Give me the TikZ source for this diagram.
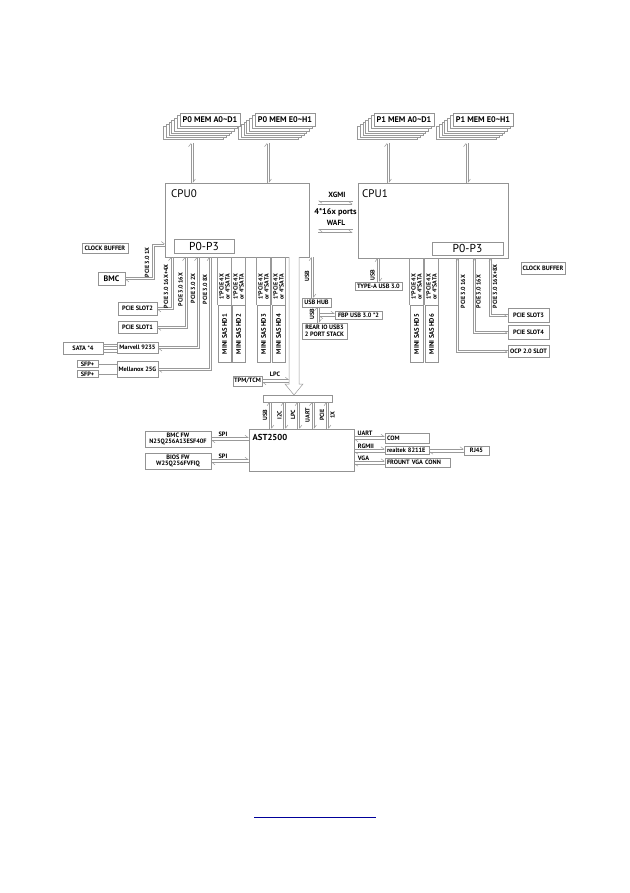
\documentclass[tikz,border=0pt]{standalone}
\usepackage{fontspec}
\setmainfont{PT Sans}
\usetikzlibrary{arrows.meta}

\tikzset{
  ln/.style={draw=gray!80, line width=0.5pt},
  blk/.style={draw=gray!85, fill=white, line width=0.55pt, inner sep=0pt, align=center,
    font=\fontsize{6.3}{6.6}\selectfont\bfseries},
  memblk/.style={blk, minimum width=60pt, minimum height=13pt, font=\fontsize{8.2}{9}\selectfont\bfseries},
  lbl/.style={inner sep=0.5pt, font=\fontsize{6.3}{7}\selectfont\bfseries},
  rl/.style={lbl, rotate=90, align=center, font=\fontsize{6}{6}\selectfont\bfseries},
  cpulbl/.style={anchor=west, inner sep=0pt, font=\fontsize{11}{12}\selectfont},
  lft/.style={text width=#1, align=left, inner xsep=2pt}
}
% pair of lines, down from a coordinate to a node's top edge
\newcommand{\vpair}[2]{%
  \draw[ln,<-] ([xshift=-1.2pt]#1) -- ([xshift=-1.2pt]#1 |- #2);
  \draw[ln,->] ([xshift=1.2pt]#1) -- ([xshift=1.2pt]#1 |- #2);}
% pair of lines, horizontal from one node to another
\newcommand{\hpair}[2]{%
  \draw[ln,->] ([yshift=1.5pt]#1) -- ([yshift=1.5pt]#1 -| #2);
  \draw[ln,<-] ([yshift=-1.5pt]#1) -- ([yshift=-1.5pt]#1 -| #2);}

\begin{document}
\begin{tikzpicture}[x=1pt,y=-1pt,>={Straight Barb[left,length=3pt,width=4.5pt]}]
\useasboundingbox (0,0) rectangle (629,893);

% processors
\node[blk, minimum width=144pt, minimum height=74pt] (cpu0) at (237,220) {};
\node[cpulbl] (cpu0t) at (171,194) {CPU0};
\node[blk, minimum width=60pt, minimum height=14pt, font=\fontsize{11.5}{12}\selectfont] (pp0) at (204,246) {P0-P3};
\node[blk, minimum width=150pt, minimum height=75pt] (cpu1) at (433,220.5) {};
\node[cpulbl] (cpu1t) at (362,194) {CPU1};
\node[blk, minimum width=71pt, minimum height=13pt, font=\fontsize{11.5}{12}\selectfont] (pp1) at (467.5,248.5) {P0-P3};

% memory stacks
\foreach \cx/\nm/\txt in {210/m0a/P0 MEM A0\textasciitilde D1, 285/m0e/P0 MEM E0\textasciitilde H1,
    404/m1a/P1 MEM A0\textasciitilde D1, 483/m1e/P1 MEM E0\textasciitilde H1}{
  \foreach \k in {6,5,...,1}
    \draw[draw=gray!80, fill=white, line width=0.5pt] (\cx-30-2.8*\k,113.5+2.2*\k) rectangle ++(60,13);
  \node[memblk] (\nm) at (\cx,120) {\txt};
}
\foreach \nm/\ax in {m0a/192, m0e/268}{
  \coordinate (\nm-b) at (\ax,143);
  \vpair{\nm-b}{cpu0.north}
}
\foreach \nm/\ax in {m1a/388, m1e/467}{
  \coordinate (\nm-b) at (\ax,143);
  \vpair{\nm-b}{cpu1.north}
}

% XGMI / WAFL
\node[lbl, font=\fontsize{7.5}{8}\selectfont\bfseries] (xgmi) at (337,195) {XGMI};
\node[lbl, font=\fontsize{8.3}{9}\selectfont\bfseries] (ports) at (335.5,212) {4*16x ports};
\node[lbl, font=\fontsize{7.5}{8}\selectfont\bfseries] (wafl) at (336,223) {WAFL};
\foreach \nm/\yy in {xg/202.5, wf/231}{
  \coordinate (\nm) at (0,\yy);
  \draw[ln,<-,shorten <=9pt,shorten >=5pt] ([yshift=1.5pt]cpu0.east |- \nm) -- ([yshift=1.5pt]cpu1.west |- \nm);
  \draw[ln,->,shorten <=9pt,shorten >=5pt] ([yshift=-1.5pt]cpu0.east |- \nm) -- ([yshift=-1.5pt]cpu1.west |- \nm);
}

% left side devices
\node[blk, minimum width=46pt, minimum height=10pt] (clk0) at (105,248) {CLOCK BUFFER};
\node[blk, minimum width=27pt, minimum height=13pt, font=\fontsize{8}{9}\selectfont\bfseries] (bmc) at (111.5,278.5) {BMC};
\node[blk, minimum width=39pt, minimum height=13pt] (slot2) at (137.5,308.5) {PCIE SLOT2};
\node[blk, minimum width=39pt, minimum height=12pt] (slot1) at (137.5,327) {PCIE SLOT1};
\node[blk, minimum width=41pt, minimum height=11pt] (marv) at (137.5,347.5) {Marvell 9235};
\node[blk, minimum width=40pt, minimum height=12pt] (sata) at (83,348) {SATA *4};
\node[blk, minimum width=21pt, minimum height=7pt] (sfp1) at (87.5,364) {SFP+};
\node[blk, minimum width=21pt, minimum height=7pt] (sfp2) at (87.5,374) {SFP+};
\node[blk, minimum width=41pt, minimum height=16pt] (mlx) at (137.5,369) {Mellanox 25G};

% BMC link
\coordinate (bk) at (153,262);
\coordinate (c1x) at (165,245);
\draw[ln,->] ([yshift=1.2pt]bmc.east) -| ([xshift=-1.2pt]bk) |- ([yshift=1.2pt]c1x);
\draw[ln,<-] ([yshift=-1.2pt]bmc.east) -| ([xshift=1.2pt]bk) |- ([yshift=-1.2pt]c1x);
\node[rl, anchor=west] at (147,278) {PCIE 3.0 1X};

% CPU0 PCIe links to the left
\foreach \nm/\xx/\dst in {ca/172/slot2, cb/186/slot1, cc/198/marv, cd/210.5/mlx}{
  \coordinate (\nm) at (\xx,257);
  \draw[ln,<-] ([xshift=-1.2pt]\nm) |- ([yshift=1.2pt]\dst.east);
  \draw[ln,->] ([xshift=1.2pt]\nm) |- ([yshift=-1.2pt]\dst.east);
}
\node[rl, anchor=west] at (166,309) {PCIE 3.0 16X+4X};
\node[rl, anchor=west] at (180.5,307) {PCIE 3.0 16X};
\node[rl, anchor=west] at (193,304) {PCIE 3.0 2X};
\node[rl, anchor=west] at (205,305) {PCIE 3.0 8X};

\foreach \dd in {-4.2,-1.4,1.4,4.2}
  \draw[ln] ([yshift=\dd pt]sata.east) -- ([yshift=\dd pt]sata.east -| marv.west);
\draw[ln] (sfp1.east) -- (sfp1.east -| mlx.west);
\draw[ln] (sfp2.east) -- (sfp2.east -| mlx.west);

% mini sas connectors
\foreach \nm/\cx/\cpu/\n in {hd1/224.5/cpu0/1, hd2/238.5/cpu0/2, hd3/263.5/cpu0/3, hd4/278.5/cpu0/4, hd5/416.5/cpu1/5, hd6/431.5/cpu1/6}{
  \node[blk, rotate=90, minimum width=57pt, minimum height=13pt, font=\fontsize{6.6}{7}\selectfont\bfseries] (\nm) at (\cx,334) {MINI SAS HD\n};
  \draw[ln] (\nm.north east) -- (\nm.north east |- \cpu.south);
  \draw[ln] (\nm.south east) -- (\nm.south east |- \cpu.south);
  \node[rl] at (\cx,287) {1*PCIE 4X\\or 4*SATA};
}

% USB on CPU0
\node[blk, minimum width=29pt, minimum height=9pt] (hub) at (316.5,302.5) {USB HUB};
\node[blk, minimum width=47pt, minimum height=8pt] (fbp) at (358.5,315) {FBP USB 3.0 *2};
\node[blk, minimum width=45pt, minimum height=16pt] (rear) at (324.5,331) {REAR IO USB3\\2 PORT STACK};
\coordinate (u0) at (312.5,257);
\vpair{u0}{hub.north}
\node[rl, anchor=west] at (307,282) {USB};
\coordinate (hr) at (318,307);
\vpair{hr}{rear.north}
\node[rl] at (312,314.5) {USB};
\coordinate (hf) at (319.2,315);
\hpair{hf}{fbp.west}

% TPM and big arrow
\node[blk, minimum width=29pt, minimum height=10pt] (tpm) at (247.5,381) {TPM/TCM};
\node[lbl] (lpcl) at (275,374) {LPC};
\node[blk, minimum width=69pt, minimum height=7pt] (bus) at (297.5,398.5) {};
\coordinate (bal) at (289,257);
\draw[ln, fill=white] (bal) -- ++(0,127) -- ++(-4,0) -- ++(9,11) -- ++(9,-11) -- ++(-4,0) -- ++(0,-127);
\hpair{tpm.east}{bal}

% CPU1 side
\node[blk, minimum width=47pt, minimum height=8pt] (typea) at (378.5,286) {TYPE-A USB 3.0};
\coordinate (u1) at (378.5,258);
\vpair{u1}{typea.north}
\node[rl, anchor=west] at (372.5,281) {USB};
\node[blk, minimum width=44pt, minimum height=12pt] (clk1) at (543,268) {CLOCK BUFFER};
\node[blk, minimum width=41pt, minimum height=14pt] (slot3) at (528.5,315.5) {PCIE SLOT3};
\node[blk, minimum width=41pt, minimum height=14pt] (slot4) at (528.5,332) {PCIE SLOT4};
\node[blk, minimum width=41pt, minimum height=12pt] (ocp) at (528.5,351) {OCP 2.0 SLOT};
\foreach \nm/\xx/\dst in {ce/457/ocp, cf/474/slot4, cg/490/slot3}{
  \coordinate (\nm) at (\xx,258);
  \draw[ln,<-] ([xshift=1.2pt]\nm) |- ([yshift=1.2pt]\dst.west);
  \draw[ln,->] ([xshift=-1.2pt]\nm) |- ([yshift=-1.2pt]\dst.west);
}
\node[rl, anchor=west] at (463,309) {PCIE 3.0 16X};
\node[rl, anchor=west] at (478.5,309) {PCIE 3.0 16X};
\node[rl, anchor=west] at (495,309) {PCIE 3.0 16X+8X};

% AST2500
\node[blk, minimum width=105pt, minimum height=42pt] (ast) at (301.5,450) {};
\node[anchor=west, inner sep=0pt, font=\fontsize{8.7}{9}\selectfont\bfseries] (astt) at (252.5,437) {AST2500};
\foreach \nm/\xx in {ba/270.5, bb/284.5, bc/298.5, bd/313, be/327.5}{
  \coordinate (\nm) at (\xx,402);
  \vpair{\nm}{ast.north}
}
\node[rl] at (265,415) {USB};
\node[rl] at (279.5,415) {I2C};
\node[rl] at (293,415) {LPC};
\node[rl] at (307.5,415) {UART};
\node[rl] at (322,415) {PCIE};
\node[rl] at (332.5,415) {1X};

\node[blk, minimum width=66pt, minimum height=16pt] (bmcfw) at (178,439) {BMC FW\\N25Q256A13ESF40F};
\node[blk, minimum width=66pt, minimum height=16pt] (biosfw) at (178,461) {BIOS FW\\W25Q256FVFIQ};
\node[lbl] at (223,434) {SPI};
\node[lbl] at (223,456) {SPI};
\hpair{bmcfw.east}{ast.west}
\hpair{biosfw.east}{ast.west}

\node[blk, lft=40pt, minimum height=10pt] (com) at (407,438) {COM};
\node[blk, lft=40pt, minimum height=8pt] (rtk) at (407,450.5) {realtek 8211E};
\node[blk, minimum width=25pt, minimum height=9pt] (rj45) at (476.5,450.5) {RJ45};
\node[blk, lft=61pt, minimum height=9pt] (vga) at (417.5,462.5) {FROUNT VGA CONN};
\node[lbl] at (365,433) {UART};
\node[lbl] at (366,446) {RGMII};
\node[lbl] at (363.5,458) {VGA};
\hpair{ast.east |- com.west}{com.west}
\hpair{ast.east |- rtk.west}{rtk.west}
\hpair{ast.east |- vga.west}{vga.west}
\hpair{rtk.east}{rj45.west}

% link underline
\coordinate (ula) at (254,817);
\coordinate (ulb) at (376,817);
\draw[blue!60!black, line width=1pt] (ula) -- (ulb);
\end{tikzpicture}
\end{document}
